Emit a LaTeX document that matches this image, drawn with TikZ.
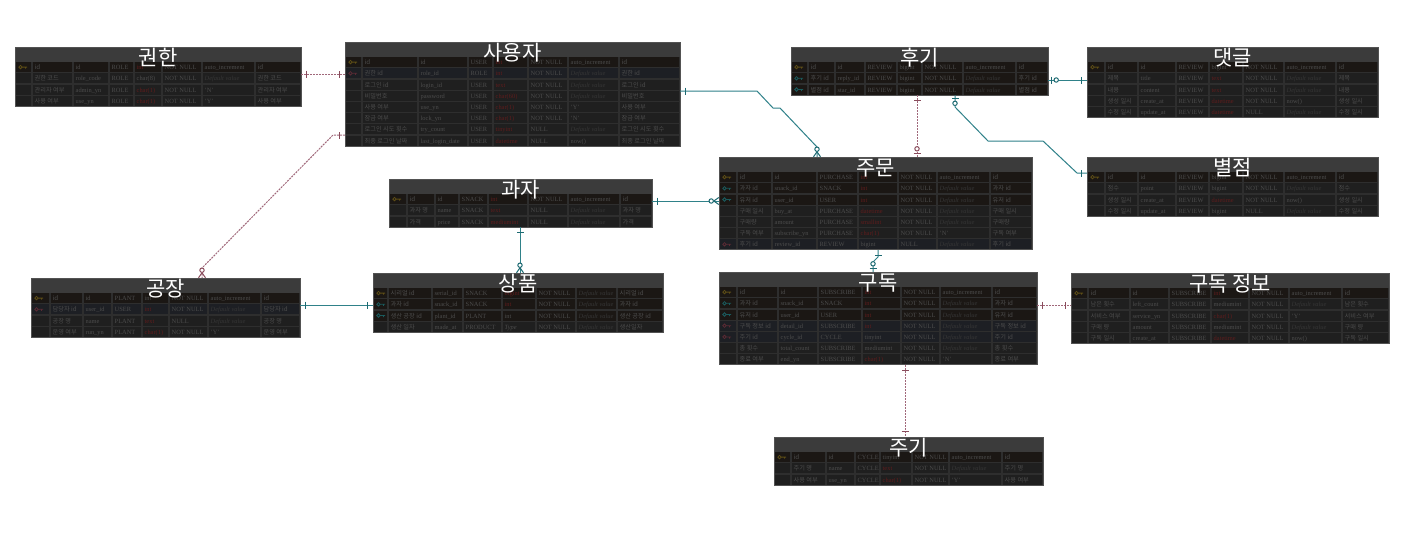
\documentclass[tikz,border=0pt]{standalone}
\usepackage{fontspec}
\setmainfont{Liberation Serif}
\newfontfamily\krfont{Noto Sans CJK KR}
\usetikzlibrary{calc}
\definecolor{tbody}{HTML}{2E2E2E}
\definecolor{thead}{HTML}{3B3B3B}
\definecolor{tedge}{HTML}{525252}
\definecolor{cellN}{HTML}{1F1F1F}
\definecolor{cellP}{HTML}{1B1714}
\definecolor{cellR}{HTML}{1D1F24}
\definecolor{keyPc}{HTML}{5E4E16}
\definecolor{keyFc}{HTML}{1A5A5C}
\definecolor{keyRc}{HTML}{5A2A34}
\definecolor{etxt}{HTML}{4C4C4C}
\definecolor{ered}{HTML}{5E1C1C}
\definecolor{edv}{HTML}{363636}
\definecolor{tline}{HTML}{2F8189}
\definecolor{tmark}{HTML}{1D6A72}
\definecolor{mline}{HTML}{A0687A}
\definecolor{mmark}{HTML}{8A4C5C}
\newcommand\erdRed[1]{\textcolor{ered}{#1}}
\newcommand\erdDef{\textit{\textcolor{edv}{Default value}}}
\newcount\erdr
\def\ehh{14.5}
\def\erh{11.2}
\def\erdparse#1,#2,#3,#4,#5,#6,#7,#8,#9\relax{\def\eXa{#1}\def\eXb{#2}\def\eXc{#3}\def\eXd{#4}\def\eXe{#5}\def\eXf{#6}\def\eXg{#7}\def\eXh{#8}\def\eXi{#9}}
\newcommand\erdtable[5]{%
  \erdparse#3\relax
  \def\etop{#4}\def\ename{#1}\def\etitle{#2}%
  \global\erdr=0
  \pgfmathsetmacro\eyb{#4+\ehh+#5*\erh}%
  \pgfmathsetmacro\ecx{(\eXa+\eXi)/2}%
  \pgfmathsetmacro\ecy{(#4+\eyb)/2}%
  \pgfmathsetmacro\ew{\eXi-\eXa}%
  \pgfmathsetmacro\eh{\eyb-#4}%
  \fill[tbody] (\eXa,#4) rectangle (\eXi,\eyb);
  \fill[thead] (\eXa,#4) rectangle (\eXi,{#4+\ehh});
  \node[inner sep=0pt, minimum width=\ew pt, minimum height=\eh pt] (#1) at (\ecx,\ecy) {};
}
\newcommand\erdend{%
  \draw[tedge, line width=1pt] (\eXa,\etop) rectangle (\eXi,\eyb);
  \node[ttitle] (\ename-title) at (\ecx,{\etop+18}) {\etitle};
}
\newcommand\erdrow[8]{%
  \pgfmathsetmacro\ry{\etop+\ehh+\the\erdr*\erh}%
  \pgfmathsetmacro\rb{\ry+\erh}%
  \pgfmathsetmacro\rc{\ry+\erh/2}%
  \pgfmathsetmacro\rt{\ry+8.1}%
  \foreach \ca/\cb in {\eXa/\eXb,\eXb/\eXc,\eXc/\eXd,\eXd/\eXe,\eXe/\eXf,\eXf/\eXg,\eXg/\eXh,\eXh/\eXi}
    {\fill[cell#1] (\ca+1.2,\ry+0.6) rectangle (\cb-1.2,\rb-0.6);}
  \def\tmpa{#1}\def\tmpn{N}%
  \ifx\tmpa\tmpn\else
    \draw[key#1, line width=0.8pt] ({\eXa+5.5},\rc) circle (1.7) ({\eXa+7.2},\rc) -- ({\eXa+12},\rc) ({\eXa+10.5},\rc) -- ({\eXa+10.5},{\rc+1.6});
  \fi
  \node[kcell] (\ename-\the\erdr-1) at ({\eXb+2.5},\rt) {#2};
  \node[ecell] (\ename-\the\erdr-2) at ({\eXc+2.5},\rt) {#3};
  \node[ecell] (\ename-\the\erdr-3) at ({\eXd+2.5},\rt) {#4};
  \node[ecell] (\ename-\the\erdr-4) at ({\eXe+2.5},\rt) {#5};
  \node[ecell] (\ename-\the\erdr-5) at ({\eXf+2.5},\rt) {#6};
  \node[ecell] (\ename-\the\erdr-6) at ({\eXg+2.5},\rt) {#7};
  \node[kcell] (\ename-\the\erdr-7) at ({\eXh+2.5},\rt) {#8};
  \global\advance\erdr by 1
}
\begin{document}
\begin{tikzpicture}[x=1pt,y=-1pt,
  cellN/.style={fill=cellN}, cellP/.style={fill=cellP}, cellF/.style={fill=cellP}, cellR/.style={fill=cellR},
  keyP/.style={draw=keyPc}, keyF/.style={draw=keyFc}, keyR/.style={draw=keyRc},
  ecell/.style={inner sep=0pt, anchor=base west, text=etxt, font=\fontsize{6.4}{7}\selectfont},
  kcell/.style={ecell, font=\krfont\fontsize{6.2}{7}\selectfont},
  ttitle/.style={inner sep=0pt, anchor=base, text=white, font=\krfont\fontsize{21}{24}\selectfont},
  idrel/.style={draw=tline, line width=1pt},
  nonid/.style={draw=mline, line width=1pt, dash pattern=on 2pt off 1pt},
  tm/.style={color=tmark, line width=1pt},
  mm/.style={color=mmark, line width=1pt},
  erone/.pic={\draw (5,-3.5) -- (5,3.5);},
  erzo/.pic={\draw (3.5,-3.5) -- (3.5,3.5); \draw[fill=white] (8,0) circle (2.2);},
  erzm/.pic={\draw (0,-3.5) -- (5,0) -- (0,3.5); \draw[fill=white] (7.6,0) circle (2.2);}
]
\fill[white] (0,0) rectangle (1425,539);
\useasboundingbox (0,0) rectangle (1425,539);

% 권한
\erdtable{role}{권한}{15,32,73,109,134,162,202,255,301}{47}{4}
\erdrow{P}{id}{id}{ROLE}{\erdRed{int}}{NOT NULL}{auto\_increment}{id}
\erdrow{N}{권한 코드}{role\_code}{ROLE}{char(8)}{NOT NULL}{\erdDef}{권한 코드}
\erdrow{N}{관리자 여부}{admin\_yn}{ROLE}{\erdRed{char(1)}}{NOT NULL}{'N'}{관리자 여부}
\erdrow{N}{사용 여부}{use\_yn}{ROLE}{\erdRed{char(1)}}{NOT NULL}{'Y'}{사용 여부}
\erdend

% 사용자
\erdtable{user}{사용자}{345,362,418,468,493,528,568,619,680}{42}{8}
\erdrow{P}{id}{id}{USER}{\erdRed{int}}{NOT NULL}{auto\_increment}{id}
\erdrow{R}{권한 id}{role\_id}{ROLE}{\erdRed{int}}{NOT NULL}{\erdDef}{권한 id}
\erdrow{N}{로그인 id}{login\_id}{USER}{\erdRed{text}}{NOT NULL}{\erdDef}{로그인 id}
\erdrow{N}{비밀번호}{password}{USER}{\erdRed{char(60)}}{NOT NULL}{\erdDef}{비밀번호}
\erdrow{N}{사용 여부}{use\_yn}{USER}{\erdRed{char(1)}}{NOT NULL}{'Y'}{사용 여부}
\erdrow{N}{잠금 여부}{lock\_yn}{USER}{\erdRed{char(1)}}{NOT NULL}{'N'}{잠금 여부}
\erdrow{N}{로그인 시도 횟수}{try\_count}{USER}{\erdRed{tinyint}}{NULL}{\erdDef}{로그인 시도 횟수}
\erdrow{N}{최종 로그인 날짜}{last\_login\_date}{USER}{\erdRed{datetime}}{NULL}{now()}{최종 로그인 날짜}
\erdend

% 후기
\erdtable{review}{후기}{791,808,835,865,897,922,963,1016,1048}{47}{3}
\erdrow{P}{id}{id}{REVIEW}{bigint}{NOT NULL}{auto\_increment}{id}
\erdrow{F}{후기 id}{reply\_id}{REVIEW}{bigint}{NOT NULL}{\erdDef}{후기 id}
\erdrow{F}{별점 id}{star\_id}{REVIEW}{bigint}{NOT NULL}{\erdDef}{별점 id}
\erdend

% 댓글
\erdtable{reply}{댓글}{1087,1105,1138,1176,1209,1243,1284,1336,1378}{47}{5}
\erdrow{P}{id}{id}{REVIEW}{bigint}{NOT NULL}{auto\_increment}{id}
\erdrow{N}{제목}{title}{REVIEW}{\erdRed{text}}{NOT NULL}{\erdDef}{제목}
\erdrow{N}{내용}{content}{REVIEW}{\erdRed{text}}{NOT NULL}{\erdDef}{내용}
\erdrow{N}{생성 일시}{create\_at}{REVIEW}{\erdRed{datetime}}{NOT NULL}{now()}{생성 일시}
\erdrow{N}{수정 일시}{update\_at}{REVIEW}{\erdRed{datetime}}{NULL}{\erdDef}{수정 일시}
\erdend

% 별점
\erdtable{star}{별점}{1087,1105,1138,1176,1209,1243,1284,1336,1378}{157}{4}
\erdrow{P}{id}{id}{REVIEW}{bigint}{NOT NULL}{auto\_increment}{id}
\erdrow{N}{점수}{point}{REVIEW}{bigint}{NOT NULL}{\erdDef}{점수}
\erdrow{N}{생성 일시}{create\_at}{REVIEW}{\erdRed{datetime}}{NOT NULL}{now()}{생성 일시}
\erdrow{N}{수정 일시}{update\_at}{REVIEW}{bigint}{NULL}{\erdDef}{수정 일시}
\erdend

% 주문
\erdtable{purchase}{주문}{719,737,772,817,858,898,937,990,1032}{157}{7}
\erdrow{P}{id}{id}{PURCHASE}{\erdRed{int}}{NOT NULL}{auto\_increment}{id}
\erdrow{F}{과자 id}{snack\_id}{SNACK}{\erdRed{int}}{NOT NULL}{\erdDef}{과자 id}
\erdrow{F}{유저 id}{user\_id}{USER}{\erdRed{int}}{NOT NULL}{\erdDef}{유저 id}
\erdrow{N}{구매 일시}{buy\_at}{PURCHASE}{\erdRed{datetime}}{NOT NULL}{\erdDef}{구매 일시}
\erdrow{N}{구매량}{amount}{PURCHASE}{\erdRed{smallint}}{NOT NULL}{\erdDef}{구매량}
\erdrow{N}{구독 여부}{subscribe\_yn}{PURCHASE}{\erdRed{char(1)}}{NOT NULL}{'N'}{구독 여부}
\erdrow{R}{후기 id}{review\_id}{REVIEW}{bigint}{NULL}{\erdDef}{후기 id}
\erdend

% 과자
\erdtable{snack}{과자}{389,407,435,459,488,528,568,620,652}{179}{3}
\erdrow{P}{id}{id}{SNACK}{\erdRed{int}}{NOT NULL}{auto\_increment}{id}
\erdrow{N}{과자 명}{name}{SNACK}{\erdRed{text}}{NULL}{\erdDef}{과자 명}
\erdrow{N}{가격}{price}{SNACK}{\erdRed{mediumint}}{NULL}{\erdDef}{가격}
\erdend

% 상품
\erdtable{product}{상품}{373,388,432,463,502,536,576,617,663}{273}{4}
\erdrow{P}{시리얼 id}{serial\_id}{SNACK}{\erdRed{bigint}}{NOT NULL}{\erdDef}{시리얼 id}
\erdrow{F}{과자 id}{snack\_id}{SNACK}{\erdRed{int}}{NOT NULL}{\erdDef}{과자 id}
\erdrow{F}{생산 공장 id}{plant\_id}{PLANT}{int}{NOT NULL}{\erdDef}{생산 공장 id}
\erdrow{N}{생산 일자}{made\_at}{PRODUCT}{\textit{Type}}{NOT NULL}{\erdDef}{생산일자}
\erdend

% 공장
\erdtable{plant}{공장}{31,50,83,112,142,169,208,261,300}{278}{4}
\erdrow{P}{id}{id}{PLANT}{int}{NOT NULL}{auto\_increment}{id}
\erdrow{R}{담당자 id}{user\_id}{USER}{\erdRed{int}}{NOT NULL}{\erdDef}{담당자 id}
\erdrow{N}{공장 명}{name}{PLANT}{\erdRed{text}}{NULL}{\erdDef}{공장 명}
\erdrow{N}{운영 여부}{run\_yn}{PLANT}{\erdRed{char(1)}}{NOT NULL}{'Y'}{운영 여부}
\erdend

% 구독
\erdtable{subs}{구독}{719,737,778,818,862,901,940,992,1037}{272}{7}
\erdrow{P}{id}{id}{SUBSCRIBE}{\erdRed{int}}{NOT NULL}{auto\_increment}{id}
\erdrow{F}{과자 id}{snack\_id}{SNACK}{\erdRed{int}}{NOT NULL}{\erdDef}{과자 id}
\erdrow{F}{유저 id}{user\_id}{USER}{\erdRed{int}}{NOT NULL}{\erdDef}{유저 id}
\erdrow{R}{구독 정보 id}{detail\_id}{SUBSCRIBE}{\erdRed{int}}{NOT NULL}{\erdDef}{구독 정보 id}
\erdrow{R}{주기 id}{cycle\_id}{CYCLE}{tinyint}{NOT NULL}{\erdDef}{주기 id}
\erdrow{N}{총 횟수}{total\_count}{SUBSCRIBE}{mediumint}{NOT NULL}{\erdDef}{총 횟수}
\erdrow{N}{종료 여부}{end\_yn}{SUBSCRIBE}{\erdRed{char(1)}}{NOT NULL}{'N'}{종료 여부}
\erdend

% 구독 정보
\erdtable{subsinfo}{구독 정보}{1071,1088,1130,1169,1211,1249,1289,1342,1389}{273}{5}
\erdrow{P}{id}{id}{SUBSCRIBE}{\erdRed{int}}{NOT NULL}{auto\_increment}{id}
\erdrow{N}{남은 횟수}{left\_count}{SUBSCRIBE}{mediumint}{NOT NULL}{\erdDef}{남은 횟수}
\erdrow{N}{서비스 여부}{service\_yn}{SUBSCRIBE}{\erdRed{char(1)}}{NOT NULL}{'Y'}{서비스 여부}
\erdrow{N}{구매 량}{amount}{SUBSCRIBE}{mediumint}{NOT NULL}{\erdDef}{구매 량}
\erdrow{N}{구독 일시}{create\_at}{SUBSCRIBE}{\erdRed{datetime}}{NOT NULL}{now()}{구독 일시}
\erdend

% 주기
\erdtable{cycle}{주기}{774,791,826,855,880,912,949,1002,1043}{437}{3}
\erdrow{P}{id}{id}{CYCLE}{tinyint}{NOT NULL}{auto\_increment}{id}
\erdrow{N}{주기 명}{name}{CYCLE}{\erdRed{text}}{NOT NULL}{\erdDef}{주기 명}
\erdrow{N}{사용 여부}{use\_yn}{CYCLE}{\erdRed{char(1)}}{NOT NULL}{'Y'}{사용 여부}
\erdend

% ---- connectors ----
% 권한 - 사용자
\draw[nonid] (role.east |- 0,74) -- (user.west |- 0,74);
\pic[mm] at (role.east |- 0,74) {erone};
\pic[mm, rotate=180] at (user.west |- 0,74) {erone};
% 사용자 - 공장
\draw[nonid] (user.west |- 0,135) -- (333,135) -- (202,268) -- (202,0 |- plant.north);
\pic[mm, rotate=180] at (user.west |- 0,135) {erone};
\pic[mm, rotate=90] at (202,0 |- plant.north) {erzm};
% 사용자 - 주문
\draw[idrel] (user.east |- 0,91) -- (757,91) -- (773,108) -- (780,108) -- (817,147) -- (817,0 |- purchase.north);
\pic[tm] at (user.east |- 0,91) {erone};
\pic[tm, rotate=90] at (817,0 |- purchase.north) {erzm};
% 후기 - 주문
\draw[nonid] (917,0 |- review.south) -- (917,0 |- purchase.north);
\pic[mm, rotate=-90] at (917,0 |- review.south) {erone};
\pic[mm, rotate=90] at (917,0 |- purchase.north) {erzo};
% 후기 - 별점
\draw[idrel] (955,0 |- review.south) -- (955,107) -- (988,141) -- (1043,141) -- (1077,173) -- (star.west |- 0,173);
\pic[tm, rotate=-90] at (955,0 |- review.south) {erzo};
\pic[tm, rotate=180] at (star.west |- 0,173) {erone};
% 후기 - 댓글
\draw[idrel] (review.east |- 0,80) -- (reply.west |- 0,80);
\pic[tm] at (review.east |- 0,80) {erzo};
\pic[tm, rotate=180] at (reply.west |- 0,80) {erone};
% 과자 - 주문
\draw[idrel] (snack.east |- 0,201) -- (purchase.west |- 0,201);
\pic[tm] at (snack.east |- 0,201) {erone};
\pic[tm, rotate=180] at (purchase.west |- 0,201) {erzm};
% 과자 - 상품
\draw[idrel] (520,0 |- snack.south) -- (520,0 |- product.north);
\pic[tm, rotate=-90] at (520,0 |- snack.south) {erone};
\pic[tm, rotate=90] at (520,0 |- product.north) {erzm};
% 공장 - 상품
\draw[idrel] (plant.east |- 0,305) -- (product.west |- 0,305);
\pic[tm] at (plant.east |- 0,305) {erone};
\pic[tm, rotate=180] at (product.west |- 0,305) {erone};
% 주문 - 구독
\draw[idrel] (878,0 |- purchase.south) -- (878,257) -- (873,262) -- (873,0 |- subs.north);
\pic[tm, rotate=-90] at (878,0 |- purchase.south) {erone};
\pic[tm, rotate=90] at (873,0 |- subs.north) {erzo};
% 구독 - 구독 정보
\draw[nonid] (subs.east |- 0,305) -- (subsinfo.west |- 0,305);
\pic[mm] at (subs.east |- 0,305) {erone};
\pic[mm, rotate=180] at (subsinfo.west |- 0,305) {erone};
% 구독 - 주기
\draw[nonid] (905,0 |- subs.south) -- (905,0 |- cycle.north);
\pic[mm, rotate=-90] at (905,0 |- subs.south) {erone};
\pic[mm, rotate=90] at (905,0 |- cycle.north) {erone};
\end{tikzpicture}
\end{document}
